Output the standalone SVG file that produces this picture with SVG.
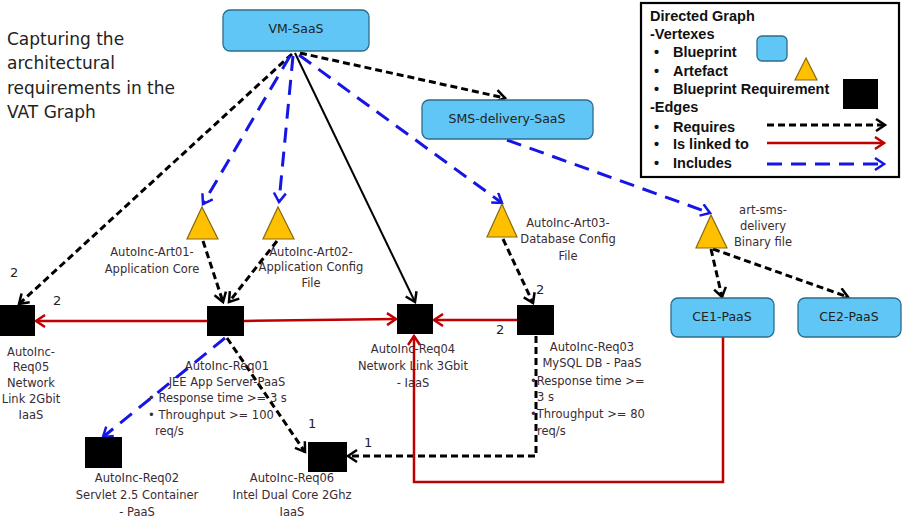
<svg xmlns="http://www.w3.org/2000/svg" width="903" height="524" viewBox="0 0 903 524">
<style>
.bp{fill:#5fc6f5;stroke:#2b6d8c;stroke-width:1.3}
.art{fill:#ffc000;stroke:#8a6a10;stroke-width:1.2}
.req{fill:#000}
.lbl{font-family:"DejaVu Sans",Verdana,sans-serif;font-size:11.5px;fill:#3a2c33}
.bt{font-family:"DejaVu Sans",Verdana,sans-serif;font-size:12.5px;fill:#222}
.num{font-family:"DejaVu Sans",Verdana,sans-serif;font-size:13px;fill:#222}
.title{font-family:"DejaVu Sans",Verdana,sans-serif;font-size:17px;fill:#222}
.lg{font-family:"Liberation Sans",Arial,sans-serif;font-size:14.5px;font-weight:bold;fill:#111}
.reqs{fill:none;stroke:#000;stroke-width:3;stroke-dasharray:7 4}
.inc{fill:none;stroke:#1515e6;stroke-width:3;stroke-dasharray:15 9}
.lnk{fill:none;stroke:#c00000;stroke-width:2.5}
.sol{fill:none;stroke:#000;stroke-width:2}
</style>
<defs>
<marker id="ak" markerUnits="userSpaceOnUse" markerWidth="14" markerHeight="14" refX="11" refY="7" orient="auto"><path d="M2,1 L11,7 L2,13" fill="none" stroke="#000" stroke-width="2.5"/></marker>
<marker id="ar" markerUnits="userSpaceOnUse" markerWidth="14" markerHeight="14" refX="11" refY="7" orient="auto"><path d="M2,1 L11,7 L2,13" fill="none" stroke="#c00000" stroke-width="2.5"/></marker>
<marker id="ab" markerUnits="userSpaceOnUse" markerWidth="14" markerHeight="14" refX="11" refY="7" orient="auto"><path d="M2,1 L11,7 L2,13" fill="none" stroke="#1515e6" stroke-width="2.5"/></marker>
</defs>
<rect width="903" height="524" fill="#fff"/>

<g id="title">
<text class="title" x="7" y="45">Capturing the</text>
<text class="title" x="7" y="69">architectural</text>
<text class="title" x="7" y="94">requirements in the</text>
<text class="title" x="7" y="118">VAT Graph</text>
</g>

<g id="edges">
<path class="reqs" d="M292,54 L19,304" marker-end="url(#ak)"/>
<path class="inc" d="M290,56 L203,204" marker-end="url(#ab)"/>
<path class="inc" d="M293,56 L279,202" marker-end="url(#ab)"/>
<path class="sol" d="M295,53 L415,302" marker-end="url(#ak)"/>
<path class="inc" d="M299,55 L502,203" marker-end="url(#ab)"/>
<path class="reqs" d="M300,53 L505,98" marker-end="url(#ak)"/>
<path class="inc" d="M507,140 L710,213" marker-end="url(#ab)"/>
<path class="reqs" d="M203,241 L223,302" marker-end="url(#ak)"/>
<path class="reqs" d="M277,241 L229,302" marker-end="url(#ak)"/>
<path class="lnk" d="M207,321 L36,321" marker-end="url(#ar)"/>
<path class="lnk" d="M244,321 L396,319" marker-end="url(#ar)"/>
<path class="lnk" d="M517,320 L434,320" marker-end="url(#ar)"/>
<path class="reqs" d="M503,239 L533,303" marker-end="url(#ak)"/>
<path class="inc" d="M225,338 L103,437" marker-end="url(#ab)"/>
<path class="reqs" d="M227,338 L305,452" marker-end="url(#ak)"/>
<path class="reqs" d="M536,336 L536,456 L348,456" marker-end="url(#ak)"/>
<path class="lnk" d="M723,337 L723,482 L414,482 L414,336" marker-end="url(#ar)"/>
<path class="reqs" d="M711,249 L722,297" marker-end="url(#ak)"/>
<path class="reqs" d="M713,249 L848,297" marker-end="url(#ak)"/>
<text class="num" x="10" y="277">2</text>
<text class="num" x="53" y="305">2</text>
<text class="num" x="536" y="294">2</text>
<text class="num" x="496" y="334">2</text>
<text class="num" x="308" y="428">1</text>
<text class="num" x="364" y="447">1</text>
</g>

<g id="vm-saas">
<rect class="bp" x="223" y="10" width="146" height="41" rx="7"/>
<text class="bt" x="296" y="33" text-anchor="middle">VM-SaaS</text>
</g>
<g id="sms-delivery-saas">
<rect class="bp" x="422" y="100" width="171" height="39" rx="7"/>
<text class="bt" x="507" y="123" text-anchor="middle">SMS-delivery-SaaS</text>
</g>
<g id="ce1-paas">
<rect class="bp" x="671" y="298" width="103" height="39" rx="7"/>
<text class="bt" x="722" y="321" text-anchor="middle">CE1-PaaS</text>
</g>
<g id="ce2-paas">
<rect class="bp" x="798" y="298" width="103" height="39" rx="7"/>
<text class="bt" x="849" y="321" text-anchor="middle">CE2-PaaS</text>
</g>

<g id="art01">
<polygon class="art" points="202,207 218,239 187,239"/>
<text class="lbl" x="152" y="256" text-anchor="middle">AutoInc-Art01-</text>
<text class="lbl" x="152" y="273" text-anchor="middle">Application Core</text>
</g>
<g id="art02">
<polygon class="art" points="278,207 294,239 263,239"/>
<text class="lbl" x="311" y="256" text-anchor="middle">AutoInc-Art02-</text>
<text class="lbl" x="311" y="271" text-anchor="middle">Application Config</text>
<text class="lbl" x="311" y="287" text-anchor="middle">File</text>
</g>
<g id="art03">
<polygon class="art" points="502,204 517,237 487,237"/>
<text class="lbl" x="568" y="227" text-anchor="middle">AutoInc-Art03-</text>
<text class="lbl" x="568" y="243" text-anchor="middle">Database Config</text>
<text class="lbl" x="568" y="260" text-anchor="middle">File</text>
</g>
<g id="art-sms">
<polygon class="art" points="711,215 727,248 696,248"/>
<text class="lbl" x="763" y="214" text-anchor="middle">art-sms-</text>
<text class="lbl" x="763" y="230" text-anchor="middle">delivery</text>
<text class="lbl" x="763" y="246" text-anchor="middle">Binary file</text>
</g>

<g id="req05">
<rect class="req" x="0" y="305" width="35" height="31"/>
<text class="lbl" x="31" y="356" text-anchor="middle">AutoInc-</text>
<text class="lbl" x="31" y="371" text-anchor="middle">Req05</text>
<text class="lbl" x="31" y="387" text-anchor="middle">Network</text>
<text class="lbl" x="31" y="403" text-anchor="middle">Link 2Gbit</text>
<text class="lbl" x="31" y="419" text-anchor="middle">IaaS</text>
</g>
<g id="req01">
<rect class="req" x="207" y="306" width="37" height="30"/>
<text class="lbl" x="227" y="370" text-anchor="middle">AutoInc-Req01</text>
<text class="lbl" x="227" y="386" text-anchor="middle">JEE App Server-PaaS</text>
<text class="lbl" x="148" y="402">• Response time &gt;= 3 s</text>
<text class="lbl" x="148" y="419">• Throughput &gt;= 100</text>
<text class="lbl" x="155" y="435">req/s</text>
</g>
<g id="req04">
<rect class="req" x="397" y="304" width="36" height="30"/>
<text class="lbl" x="413" y="353" text-anchor="middle">AutoInc-Req04</text>
<text class="lbl" x="413" y="370" text-anchor="middle">Network Link 3Gbit</text>
<text class="lbl" x="413" y="387" text-anchor="middle">- IaaS</text>
</g>
<g id="req03">
<rect class="req" x="517" y="305" width="37" height="30"/>
<text class="lbl" x="592" y="351" text-anchor="middle">AutoInc-Req03</text>
<text class="lbl" x="592" y="367" text-anchor="middle">MySQL DB - PaaS</text>
<text class="lbl" x="530" y="385">•Response time &gt;=</text>
<text class="lbl" x="537" y="401">3 s</text>
<text class="lbl" x="530" y="418">•Throughput &gt;= 80</text>
<text class="lbl" x="537" y="435">req/s</text>
</g>
<g id="req02">
<rect class="req" x="85" y="437" width="37" height="31"/>
<text class="lbl" x="137" y="482" text-anchor="middle">AutoInc-Req02</text>
<text class="lbl" x="137" y="499" text-anchor="middle">Servlet 2.5 Container</text>
<text class="lbl" x="137" y="516" text-anchor="middle">- PaaS</text>
</g>
<g id="req06">
<rect class="req" x="308" y="442" width="39" height="30"/>
<text class="lbl" x="292" y="482" text-anchor="middle">AutoInc-Req06</text>
<text class="lbl" x="292" y="499" text-anchor="middle">Intel Dual Core 2Ghz</text>
<text class="lbl" x="292" y="516" text-anchor="middle">IaaS</text>
</g>

<g id="legend">
<rect x="641" y="3" width="258" height="174" fill="#fff" stroke="#000" stroke-width="2.2"/>
<text class="lg" x="650" y="21">Directed Graph</text>
<text class="lg" x="650" y="39">-Vertexes</text>
<text class="lg" x="654" y="57">•</text><text class="lg" x="673" y="57">Blueprint</text>
<text class="lg" x="654" y="76">•</text><text class="lg" x="673" y="76">Artefact</text>
<text class="lg" x="654" y="94">•</text><text class="lg" x="673" y="94">Blueprint Requirement</text>
<text class="lg" x="650" y="112">-Edges</text>
<text class="lg" x="654" y="132">•</text><text class="lg" x="673" y="132">Requires</text>
<text class="lg" x="654" y="149">•</text><text class="lg" x="673" y="149">Is linked to</text>
<text class="lg" x="654" y="168">•</text><text class="lg" x="673" y="168">Includes</text>
<rect class="bp" x="757" y="36" width="30" height="25" rx="5"/>
<polygon class="art" points="806,58 817,80 795,80"/>
<rect class="req" x="843" y="79" width="35" height="30"/>
<path class="reqs" d="M767,125 L885,125" marker-end="url(#ak)"/>
<path class="lnk" d="M767,143 L884,143" marker-end="url(#ar)"/>
<path class="inc" d="M767,164 L884,164" marker-end="url(#ab)"/>
</g>
</svg>
